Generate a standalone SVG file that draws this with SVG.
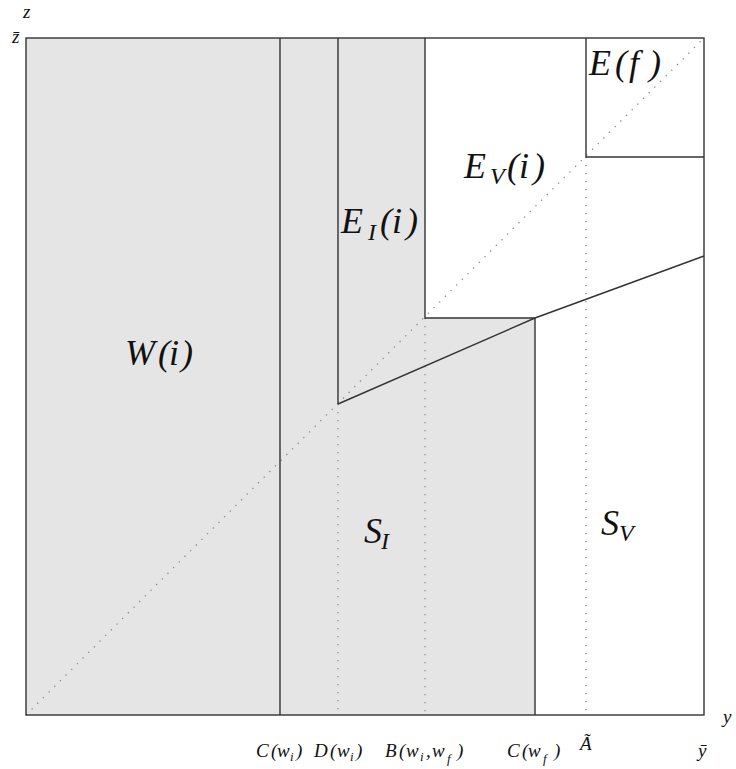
<svg xmlns="http://www.w3.org/2000/svg" width="736" height="769" viewBox="0 0 736 769">
<style>
.solid{fill:none;stroke:#333;stroke-width:1.4}
.dot{fill:none;stroke:#8a8a8a;stroke-width:1.3;stroke-dasharray:1.3 6.7}
text{font-family:'Liberation Serif','Times New Roman',serif;font-style:italic;fill:#111}
.lab{font-size:36px}
.sub{font-size:24px}
.ax{font-size:19px}
.axs{font-size:13px}
</style>
<rect width="736" height="769" fill="#fff"/>
<g id="regions">
<polygon points="26,38 425,38 425,318 535,318 535,715 26,715" fill="#e5e5e5"/>
</g>
<g id="dotted">
<line class="dot" x1="26" y1="715" x2="704" y2="38"/>
<line class="dot" x1="338" y1="404" x2="338" y2="715"/>
<line class="dot" x1="425" y1="318" x2="425" y2="715"/>
<line class="dot" x1="586" y1="157" x2="586" y2="715"/>
</g>
<g id="connectors">
<rect class="solid" x="26" y="38" width="678" height="677"/>
<line class="solid" x1="280" y1="38" x2="280" y2="715"/>
<line class="solid" x1="338" y1="38" x2="338" y2="404"/>
<polyline class="solid" points="425,38 425,318 535,318 535,715"/>
<polyline class="solid" points="338,404 535,318 704,256"/>
<polyline class="solid" points="586,38 586,157 704,157"/>
</g>
<g id="labels">
<text class="lab" y="365"><tspan x="125">W</tspan><tspan x="158">(</tspan><tspan x="169">i</tspan><tspan x="181">)</tspan></text>
<text class="lab" y="233"><tspan x="341">E</tspan><tspan class="sub" x="368" y="240">I</tspan><tspan x="380" y="233">(</tspan><tspan x="392">i</tspan><tspan x="406">)</tspan></text>
<text class="lab" y="178"><tspan x="464">E</tspan><tspan class="sub" x="490" y="184">V</tspan><tspan x="507" y="178">(</tspan><tspan x="519">i</tspan><tspan x="533">)</tspan></text>
<text class="lab" y="75"><tspan x="589">E</tspan><tspan x="615">(</tspan><tspan x="629">f</tspan><tspan x="649">)</tspan></text>
<text class="lab" y="543"><tspan x="364">S</tspan><tspan class="sub" x="381" y="549">I</tspan></text>
<text class="lab" y="535"><tspan x="601">S</tspan><tspan class="sub" x="619" y="541">V</tspan></text>
</g>
<g id="axis-labels">
<text class="ax" x="23" y="18">z</text>
<text class="ax" x="12" y="43">z̄</text>
<text class="ax" x="723" y="723">y</text>
<text class="ax" y="757"><tspan x="256">C</tspan><tspan x="271">(</tspan><tspan x="277">w</tspan><tspan class="axs" x="290" y="761">i</tspan><tspan x="296" y="757">)</tspan></text>
<text class="ax" y="757"><tspan x="314">D</tspan><tspan x="330">(</tspan><tspan x="337">w</tspan><tspan class="axs" x="350" y="761">i</tspan><tspan x="356" y="757">)</tspan></text>
<text class="ax" y="757"><tspan x="385">B</tspan><tspan x="399">(</tspan><tspan x="406">w</tspan><tspan class="axs" x="420" y="761">i</tspan><tspan x="426" y="757">,</tspan><tspan x="432">w</tspan><tspan class="axs" x="447" y="763">f</tspan><tspan x="457" y="757">)</tspan></text>
<text class="ax" y="757"><tspan x="507">C</tspan><tspan x="522">(</tspan><tspan x="528">w</tspan><tspan class="axs" x="543" y="763">f</tspan><tspan x="554" y="757">)</tspan></text>
<text class="ax" x="580" y="750">Ã</text>
<text class="ax" x="698" y="757">ȳ</text>
</g>
</svg>
